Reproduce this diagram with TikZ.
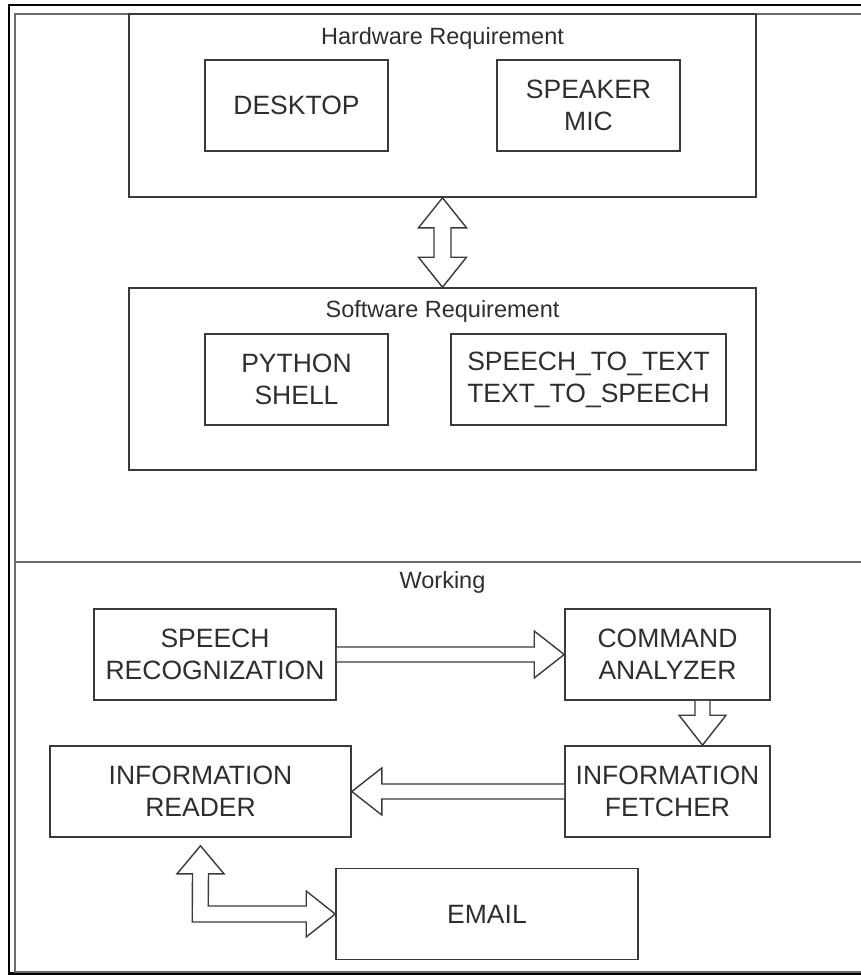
\documentclass[tikz,border=0pt]{standalone}
\usepackage{fontspec}
\setmainfont{Liberation Sans}
\usetikzlibrary{calc}
\definecolor{ln}{HTML}{3A3A3A}
\definecolor{tx}{HTML}{2E2E2E}
\definecolor{fr}{HTML}{6A6A6A}
\begin{document}
\begin{tikzpicture}[x=1pt,y=-1pt,
  box/.style={draw=ln,line width=1.6pt,inner sep=0pt,align=center,text=tx,
    font=\fontsize{26.5}{32}\selectfont,minimum height=91pt,minimum width=#1},
  box/.default=183pt,
  grp/.style={draw=ln,line width=1.6pt,inner sep=0pt,minimum width=627pt,minimum height=#1},
  ttl/.style={inner sep=0pt,text=tx,font=\fontsize{23.5}{28}\selectfont},
  barrow/.style={draw=ln,fill=white,line width=1.4pt,line join=miter}]
\useasboundingbox (0,0) rectangle (861,975);
\clip (0,0) rectangle (861,975);
% outer frames
\draw[black,line width=2.6pt] (9,5) rectangle (900,973.5);
\draw[fr,line width=2pt] (15,14) rectangle (900,971.5);
\draw[fr,line width=2pt] (15,562) -- (900,562);
% hardware
\node[grp=183pt] (hw) at (442.5,105.5) {};
\node[ttl] (hwt) at (442.5,38) {Hardware Requirement};
\node[box] (desk) at (296.5,105.5) {DESKTOP};
\node[box] (spk) at (588.5,105.5) {SPEAKER\\MIC};
% software
\node[grp=182pt] (sw) at (442.5,379) {};
\node[ttl] (swt) at (442.5,311) {Software Requirement};
\node[box] (py) at (296.5,379.5) {PYTHON\\SHELL};
\node[box=275pt] (stt) at (588.5,379.5) {SPEECH\_TO\_TEXT\\TEXT\_TO\_SPEECH};
% working
\node[ttl] (wt) at (442.5,582) {Working};
\node[box=242pt] (sr) at (215,654.5) {SPEECH\\RECOGNIZATION};
\node[box=205pt] (ca) at (667.5,654.5) {COMMAND\\ANALYZER};
\node[box=205pt] (if) at (667.5,791.5) {INFORMATION\\FETCHER};
\node[box=301pt] (ir) at (200.5,791.5) {INFORMATION\\READER};
\node[box=302pt] (em) at (487,914) {EMAIL};
% hardware <-> software
\draw[barrow] (hw.south) -- ($(hw.south)+(24,30)$) -- ($(hw.south)+(8.5,30)$)
  -- ($(sw.north)+(8.5,-30)$) -- ($(sw.north)+(24,-30)$) -- (sw.north)
  -- ($(sw.north)+(-24,-30)$) -- ($(sw.north)+(-8.5,-30)$)
  -- ($(hw.south)+(-8.5,30)$) -- ($(hw.south)+(-24,30)$) -- cycle;
% speech recognization -> command analyzer
\draw[barrow] ($(sr.east)+(0,-7.5)$) -- ($(ca.west)+(-30,-7.5)$) -- ($(ca.west)+(-30,-23.5)$)
  -- (ca.west) -- ($(ca.west)+(-30,23.5)$) -- ($(ca.west)+(-30,7.5)$) -- ($(sr.east)+(0,7.5)$);
% command analyzer -> information fetcher
\coordinate (cas) at ($(ca.south)+(35,0)$);
\coordinate (ifn) at ($(if.north)+(35,0)$);
\draw[barrow] ($(cas)+(-7.5,0)$) -- ($(ifn)+(-7.5,-30)$) -- ($(ifn)+(-23.5,-30)$)
  -- (ifn) -- ($(ifn)+(23.5,-30)$) -- ($(ifn)+(7.5,-30)$) -- ($(cas)+(7.5,0)$);
% information fetcher -> information reader
\draw[barrow] ($(if.west)+(0,-7.5)$) -- ($(ir.east)+(30,-7.5)$) -- ($(ir.east)+(30,-23.5)$)
  -- (ir.east) -- ($(ir.east)+(30,23.5)$) -- ($(ir.east)+(30,7.5)$) -- ($(if.west)+(0,7.5)$);
% information reader <-> email (elbow)
\coordinate (irs) at ($(ir.south)+(0,8)$);
\draw[barrow] (irs) -- ($(irs)+(23.5,28)$) -- ($(irs)+(8,28)$)
  -- ($(em.west)+(-127,-8)$) -- ($(em.west)+(-29,-8)$) -- ($(em.west)+(-29,-23)$)
  -- (em.west) -- ($(em.west)+(-29,23)$) -- ($(em.west)+(-29,8)$)
  -- ($(em.west)+(-143,8)$) -- ($(irs)+(-8,28)$) -- ($(irs)+(-23.5,28)$) -- cycle;
\end{tikzpicture}
\end{document}
